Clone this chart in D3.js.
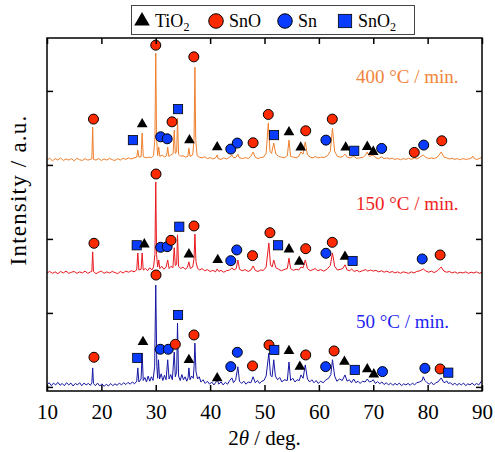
<!DOCTYPE html>
<head>
    <script src="https://d3js.org/d3.v7.min.js"></script>
    <style>
        body {margin: 0; background: #fff;}
        svg text {font-family: "Liberation Serif", "Times New Roman", serif !important; fill: #000;}
        .trace {fill: none; stroke-width: 1;}
    </style>
</head>
<body>
</body>
<script>
  const width = 495,
        height = 452,
        margin = {left: 47, right: 13, top: 38, bottom: 61};

  const xTicks = [10, 20, 30, 40, 50, 60, 70, 80, 90];
  const yTicks = [0, 1000, 2000, 3000, 4000];

  const phases = ["TiO2", "SnO", "Sn", "SnO2"];
  const rates = ["400 °C / min.", "150 °C / min.", "50 °C / min."];
  const offsets = [3065, 1540, 27];
  const lineColors = ["#ef7f2d", "#e8181f", "#1616a4"];
  const textColors = ["#f0843a", "#f01e22", "#1f1ff0"];

  // 400 °C / min. : [2theta, intensity above baseline]
  const pattern400 = [[10,0],[10.5,25],[11,-10],[11.5,20],[12,0],[12.5,30],[13,-5],[13.5,15],[14,0],[14.5,20],[15,-10],[15.5,25],[16,5],[16.5,-5],[17,20],[17.5,0],[18,10],[18.25,15],[18.4,445],[18.55,10],[19,0],[19.5,20],[20,-5],[20.5,15],[21,0],[21.5,25],[22,5],[22.5,-5],[23,20],[23.5,0],[24,25],[24.5,10],[25,30],[25.5,15],[26,30],[26.5,40],[26.7,135],[26.9,40],[27.3,45],[27.5,365],[27.7,50],[28.2,30],[28.7,40],[29.2,35],[29.6,60],[29.85,300],[30.0,1445],[30.15,300],[30.35,60],[30.55,175],[30.75,50],[31.2,70],[31.6,40],[32.0,60],[32.2,175],[32.4,50],[32.8,70],[33.2,90],[33.4,405],[33.6,90],[33.85,120],[34.0,565],[34.2,80],[34.6,50],[35.0,60],[35.5,40],[35.9,50],[36.1,160],[36.3,50],[36.8,70],[37.05,300],[37.2,1255],[37.35,280],[37.6,60],[38,40],[38.5,30],[39,45],[39.5,20],[40,35],[40.5,15],[41,30],[41.3,70],[41.5,20],[42,10],[42.5,30],[43,15],[43.6,40],[44.0,70],[44.3,30],[44.8,40],[45.1,80],[45.4,30],[46,20],[46.5,35],[47,20],[47.5,50],[47.9,110],[48.3,40],[48.8,20],[49.3,35],[49.8,40],[50.3,90],[50.7,500],[51.0,120],[51.3,90],[51.7,230],[52.1,80],[52.6,50],[53.1,40],[53.6,30],[54.2,60],[54.5,270],[54.8,50],[55.3,40],[55.8,30],[56.3,50],[56.7,110],[57.1,80],[57.5,245],[57.9,70],[58.4,40],[58.9,30],[59.3,50],[59.8,30],[60.3,40],[61,35],[61.6,60],[62.1,120],[62.5,430],[62.9,120],[63.4,50],[64,40],[64.4,50],[64.8,80],[65.2,40],[65.8,30],[66.4,55],[66.9,25],[67.5,30],[68.2,40],[68.6,70],[68.9,110],[69.3,50],[70,70],[70.5,30],[71,20],[71.5,45],[72,20],[72.5,30],[73,15],[73.5,25],[74,10],[74.5,20],[75,5],[75.5,20],[76,10],[76.5,25],[77,10],[77.6,30],[78,15],[78.6,40],[79.2,70],[79.6,40],[80.2,20],[80.7,30],[81.2,20],[81.8,40],[82.5,110],[83,40],[83.5,30],[84,15],[84.5,25],[85,10],[85.5,20],[86,5],[86.5,20],[87,10],[87.5,15],[88,25],[88.3,55],[88.6,20],[89,10],[89.5,20],[90,40]];

  const pattern150 = [[10,0],[10.5,20],[11,-5],[11.5,15],[12,-10],[12.5,20],[13,0],[13.5,25],[14,-5],[14.5,10],[15,20],[15.5,-5],[16,15],[16.5,0],[17,25],[17.5,-5],[18,15],[18.25,20],[18.4,285],[18.55,20],[19,-10],[19.5,10],[20,25],[20.5,-5],[21,15],[21.5,0],[22,20],[22.5,5],[23,-10],[23.5,20],[24,0],[24.5,25],[25,10],[25.5,30],[26,15],[26.5,40],[26.7,270],[26.9,40],[27.3,50],[27.5,270],[27.7,40],[28.1,60],[28.5,30],[28.9,70],[29.3,40],[29.6,80],[29.85,250],[30.0,1230],[30.15,250],[30.35,80],[30.55,175],[30.75,60],[31.1,90],[31.5,50],[31.9,80],[32.2,175],[32.45,60],[32.8,90],[33.15,70],[33.4,340],[33.6,100],[33.85,120],[34.0,515],[34.2,90],[34.6,60],[35.0,80],[35.4,50],[35.8,70],[36.1,150],[36.35,60],[36.8,80],[37.05,200],[37.2,525],[37.4,150],[37.7,60],[38.1,40],[38.5,60],[39,30],[39.5,45],[40,20],[40.5,35],[41,15],[41.3,55],[41.6,20],[42,35],[42.5,10],[43,30],[43.6,40],[44.0,70],[44.4,40],[44.8,60],[45.1,175],[45.4,50],[45.9,30],[46.4,45],[47,20],[47.5,40],[47.9,95],[48.3,35],[48.8,20],[49.3,40],[49.8,35],[50.3,80],[50.8,405],[51.1,110],[51.4,80],[51.7,175],[52.1,70],[52.6,50],[53.1,30],[53.6,45],[54.2,60],[54.5,200],[54.8,60],[55.3,35],[55.8,50],[56.3,40],[56.7,80],[57.1,70],[57.5,175],[57.9,60],[58.4,30],[58.9,45],[59.3,60],[59.8,30],[60.3,45],[60.9,25],[61.5,50],[62.1,100],[62.5,270],[62.9,90],[63.4,40],[64,50],[64.4,60],[64.8,110],[65.2,40],[65.7,30],[66.0,55],[66.5,20],[67,35],[67.5,15],[68,30],[68.6,45],[69,25],[69.5,40],[70,25],[70.5,35],[71,15],[71.5,30],[72,10],[72.5,25],[73,5],[73.5,20],[74,0],[74.5,15],[75,-5],[75.5,15],[76,5],[76.5,-5],[77,15],[77.5,0],[78,20],[78.6,30],[79.2,55],[79.6,30],[80.2,10],[80.7,25],[81.2,5],[81.8,30],[82.5,80],[83,25],[83.5,10],[84,20],[84.5,0],[85,15],[85.5,-5],[86,10],[86.5,0],[87,15],[87.5,-5],[88,10],[88.5,0],[89,15],[89.5,-5],[90,10]];

  const pattern50 = [[10,0],[10.4,30],[10.8,-10],[11.2,25],[11.6,0],[12,35],[12.4,-5],[12.8,20],[13.2,-10],[13.6,30],[14,0],[14.4,25],[14.8,-15],[15.2,20],[15.6,0],[16,30],[16.4,-10],[16.8,25],[17.2,0],[17.6,20],[18,-5],[18.25,30],[18.4,230],[18.55,20],[18.9,-10],[19.3,25],[19.7,-15],[20.1,15],[20.5,-20],[20.9,10],[21.3,-15],[21.7,20],[22.1,-10],[22.5,15],[22.9,-5],[23.3,25],[23.7,0],[24.1,30],[24.5,5],[24.9,35],[25.3,10],[25.7,40],[26.1,15],[26.5,50],[26.7,230],[26.9,40],[27.3,80],[27.5,430],[27.7,60],[28.0,100],[28.3,40],[28.6,120],[28.9,50],[29.2,110],[29.5,60],[29.8,250],[30.0,1350],[30.2,250],[30.35,90],[30.5,340],[30.7,80],[31.0,150],[31.3,60],[31.6,130],[31.9,70],[32.2,340],[32.45,80],[32.75,140],[33.05,70],[33.4,445],[33.6,110],[33.85,180],[34.0,835],[34.2,120],[34.5,60],[34.8,140],[35.1,70],[35.4,110],[35.7,50],[35.95,100],[36.1,230],[36.3,70],[36.6,120],[36.9,90],[37.05,250],[37.2,565],[37.4,180],[37.7,80],[38.0,110],[38.3,40],[38.7,70],[39.1,20],[39.5,50],[39.9,10],[40.3,40],[40.7,0],[41.0,30],[41.3,70],[41.6,10],[42.0,40],[42.4,0],[42.8,35],[43.2,10],[43.6,60],[44.0,95],[44.3,30],[44.7,70],[45.1,245],[45.4,50],[45.8,20],[46.2,50],[46.6,10],[47.0,40],[47.5,30],[47.9,110],[48.3,30],[48.7,60],[49.1,20],[49.5,50],[49.9,60],[50.3,120],[50.8,430],[51.1,130],[51.4,110],[51.7,340],[52.0,120],[52.4,70],[52.8,100],[53.2,40],[53.6,70],[54.2,60],[54.5,310],[54.8,60],[55.2,90],[55.6,40],[56.0,70],[56.4,60],[56.7,135],[57.1,90],[57.5,270],[57.9,80],[58.3,40],[58.7,70],[59.1,30],[59.5,60],[59.9,20],[60.3,50],[60.8,30],[61.3,70],[61.8,90],[62.2,140],[62.5,340],[62.9,120],[63.3,50],[63.8,80],[64.3,60],[64.8,135],[65.2,50],[65.6,70],[66.0,30],[66.4,80],[66.8,30],[67.2,50],[67.6,20],[68.0,50],[68.5,40],[68.9,80],[69.3,40],[69.7,50],[70.0,70],[70.4,20],[70.8,45],[71.2,15],[71.6,40],[72.0,5],[72.4,30],[72.8,0],[73.2,25],[73.6,-5],[74.0,20],[74.4,0],[74.8,25],[75.2,-10],[75.6,15],[76.0,0],[76.4,20],[76.8,-5],[77.2,25],[77.6,0],[78.0,30],[78.5,40],[79.0,60],[79.2,110],[79.5,60],[79.9,30],[80.3,10],[80.7,35],[81.1,0],[81.5,30],[81.9,40],[82.5,95],[82.9,40],[83.2,30],[83.5,55],[83.8,20],[84.2,30],[84.6,0],[85.0,25],[85.4,-5],[85.8,20],[86.2,0],[86.6,25],[87.0,-10],[87.4,15],[87.8,0],[88.2,25],[88.6,-5],[89.0,20],[89.4,0],[89.8,40],[90,60]];

  // phase markers: [phase, 2theta, intensity above baseline]
  const marks400 = [["SnO",18.55,554],["SnO2",25.8,270],["TiO2",27.5,486],["SnO",30.0,1553],["Sn",30.9,315],["Sn",32.1,288],["SnO",33.0,517],["SnO2",34.1,689],["TiO2",36.2,270],["SnO",37.0,1395],["TiO2",41.3,176],["Sn",43.8,149],["Sn",45.0,230],["SnO",47.9,234],["SnO",50.7,617],["SnO2",51.75,338],["TiO2",54.5,378],["TiO2",56.66,171],["SnO",57.58,396],["Sn",61.3,270],["SnO",62.47,554],["TiO2",64.93,171],["SnO2",66.5,126],["TiO2",68.9,180],["TiO2",70.0,112],["Sn",71.55,158],["SnO",77.55,104],["Sn",79.28,203],["SnO",82.6,261]];
  const marks150 = [["SnO",18.64,401],["SnO2",26.5,374],["TiO2",27.9,387],["SnO",30.05,1337],["Sn",30.9,347],["Sn",32.1,355],["SnO",32.8,441],["SnO2",34.33,625],["TiO2",36.1,252],["SnO",37.03,635],["TiO2",41.4,176],["Sn",43.8,166],["Sn",44.9,311],["SnO",47.8,234],["SnO",51.0,544],["SnO2",52.5,374],["TiO2",54.5,320],["TiO2",56.4,153],["SnO",57.58,328],["Sn",61.3,266],["SnO",62.47,414],["TiO2",64.8,220],["SnO2",66.2,162],["Sn",79.0,189],["SnO",82.3,243]];
  const marks50 = [["SnO",18.64,374],["SnO2",26.6,365],["TiO2",27.65,581],["SnO",30.05,1485],["Sn",30.84,482],["Sn",32.3,482],["SnO",33.6,549],["SnO2",34.1,945],["TiO2",36.1,338],["SnO",37.03,675],["TiO2",41.3,90],["Sn",43.8,247],["Sn",45.0,441],["SnO",47.8,257],["SnO",50.83,540],["SnO2",51.8,473],["TiO2",54.5,459],["TiO2",56.5,247],["SnO",57.58,405],["Sn",61.25,247],["SnO",62.8,459],["TiO2",64.7,315],["SnO2",66.6,203],["TiO2",68.9,212],["TiO2",70.1,144],["Sn",71.7,180],["Sn",79.5,225],["SnO",82.3,216],["SnO2",83.8,166]];

  const patterns = [pattern400, pattern150, pattern50];
  const marks = [marks400, marks150, marks50];

  const serif = '"Liberation Serif", "Times New Roman", serif';

  const x = d3.scaleLinear().domain([10, 90]).range([margin.left, width - margin.right]);
  const y = d3.scaleLinear().domain([-55, 4715]).range([height - margin.bottom, margin.top]);

  const svg = d3.select("body").append("svg")
          .attr("width", width)
          .attr("height", height)
          .style("font-family", serif);

  const line = d3.line().x(d => x(d[0])).y(d => y(d[1]));

  svg.append("defs").append("clipPath").attr("id", "clip")
    .append("rect")
      .attr("x", margin.left).attr("y", margin.top)
      .attr("width", width - margin.left - margin.right)
      .attr("height", height - margin.top - margin.bottom);

  const traces = svg.append("g").attr("clip-path", "url(#clip)");
  patterns.forEach((p, i) => {
    traces.append("path")
      .attr("class", "trace")
      .attr("stroke", lineColors[i])
      .attr("d", line(p.map(d => [d[0], d[1] + offsets[i]])));
  });

  // markers
  const fills = {TiO2: "#000", SnO: "#ff2a00", Sn: "#0a3cff", SnO2: "#0a3cff"};
  const drawMark = (g, phase, cx, cy, s) => {
    if (phase === "SnO" || phase === "Sn") {
      g.append("circle").attr("cx", cx).attr("cy", cy).attr("r", 5 * s)
        .attr("fill", fills[phase]).attr("stroke", "#000").attr("stroke-width", 1);
    } else if (phase === "SnO2") {
      g.append("rect").attr("x", cx - 4.6 * s).attr("y", cy - 4.6 * s)
        .attr("width", 9.2 * s).attr("height", 9.2 * s)
        .attr("fill", fills[phase]).attr("stroke", "#000").attr("stroke-width", 0.8);
    } else {
      g.append("path").attr("transform", `translate(${cx},${cy})`)
        .attr("d", d3.symbol(d3.symbolTriangle, 50 * s * s)())
        .attr("fill", "#000");
    }
  };

  const markG = svg.append("g");
  marks.forEach((m, i) => {
    m.forEach(d => drawMark(markG, d[0], x(d[1]), y(d[2] + offsets[i]), 1));
  });

  // rate labels
  const labelY = [83, 210, 328];
  rates.forEach((r, i) => {
    svg.append("text")
      .attr("x", 356).attr("y", labelY[i])
      .attr("font-size", 19)
      .style("fill", textColors[i])
      .text(r);
  });

  // frame and axes
  svg.append("rect")
    .attr("x", margin.left).attr("y", margin.top)
    .attr("width", width - margin.left - margin.right)
    .attr("height", height - margin.top - margin.bottom)
    .attr("fill", "none").attr("stroke", "#000").attr("stroke-width", 1.5);

  const tickLen = 6;
  svg.append("g")
    .attr("transform", `translate(0,${height - margin.bottom})`)
    .call(d3.axisBottom(x).tickValues(xTicks).tickSizeInner(-tickLen).tickSizeOuter(0).tickPadding(13))
    .call(g => g.select(".domain").remove())
    .call(g => g.attr("font-family", null).attr("font-size", 21));
  svg.append("g")
    .attr("transform", `translate(0,${margin.top})`)
    .call(d3.axisTop(x).tickValues(xTicks).tickSizeInner(-tickLen).tickSizeOuter(0).tickFormat(""))
    .call(g => g.select(".domain").remove());
  svg.append("g")
    .attr("transform", `translate(${margin.left},0)`)
    .call(d3.axisLeft(y).tickValues(yTicks).tickSizeInner(-tickLen).tickSizeOuter(0).tickFormat(""))
    .call(g => g.select(".domain").remove());
  svg.append("g")
    .attr("transform", `translate(${width - margin.right},0)`)
    .call(d3.axisRight(y).tickValues(yTicks).tickSizeInner(-tickLen).tickSizeOuter(0).tickFormat(""))
    .call(g => g.select(".domain").remove());
  svg.selectAll(".tick line").attr("stroke-width", 1.5);

  // axis titles
  const xt = svg.append("text")
    .attr("x", (margin.left + width - margin.right) / 2)
    .attr("y", 445)
    .attr("text-anchor", "middle")
    .attr("font-size", 21);
  xt.append("tspan").text("2");
  xt.append("tspan").attr("font-style", "italic").text("θ");
  xt.append("tspan").text(" / deg.");

  svg.append("text")
    .attr("transform", `translate(26,190) rotate(-90)`)
    .attr("text-anchor", "middle")
    .attr("font-size", 23)
    .attr("letter-spacing", 1.2)
    .text("Intensity / a.u.");

  // legend
  const legend = svg.append("g");
  legend.append("rect")
    .attr("x", 131.5).attr("y", 5.5).attr("width", 283).attr("height", 29)
    .attr("fill", "#fff").attr("stroke", "#444").attr("stroke-width", 1);
  const legendX = [142, 216, 285, 345];
  const legendLabels = [["TiO", "2"], ["SnO", ""], ["Sn", ""], ["SnO", "2"]];
  phases.forEach((p, i) => {
    drawMark(legend, p, legendX[i], 21, 1.45);
    const t = legend.append("text")
      .attr("x", legendX[i] + 13).attr("y", 27)
      .attr("font-size", 18);
    t.append("tspan").text(legendLabels[i][0]);
    if (legendLabels[i][1]) t.append("tspan").attr("font-size", 12).attr("dy", 4).text(legendLabels[i][1]);
  });
</script>
